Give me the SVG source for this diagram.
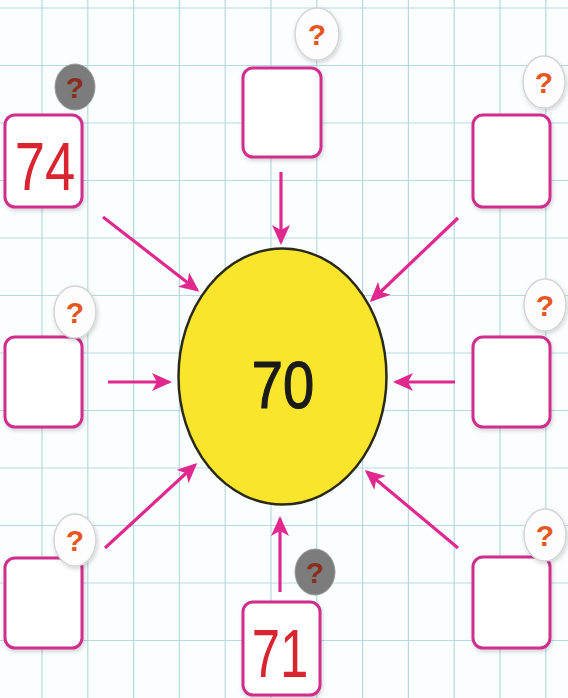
<svg xmlns="http://www.w3.org/2000/svg" width="568" height="698" viewBox="0 0 568 698">
<style>
.grid line{stroke:#b9d9e0;stroke-width:1.2}
.box{fill:#fff;stroke:#cf2f8c;stroke-width:3}
.badge{fill:#fdfdfd;stroke:#d4d4d4;stroke-width:1.5}
.gbadge{fill:#7c7c7c;stroke:#9a9a9a;stroke-width:1}
.q{font-family:"Liberation Sans",Arial,sans-serif;font-weight:bold;font-size:30px;fill:#e8561f;text-anchor:middle}
.gq{fill:#8a2d1c}
.num{font-family:"Liberation Sans",Arial,sans-serif;font-size:68px;fill:#d8252f;text-anchor:middle}
.conn line{stroke:#e0288f;stroke-width:3.2;marker-end:url(#ah)}
</style>
<defs>
<marker id="ah" viewBox="0 0 20 18" refX="17" refY="9" markerWidth="20" markerHeight="18" markerUnits="userSpaceOnUse" orient="auto">
<path d="M0,0 L20,9 L0,18 L5,9 z" fill="#e0288f"/>
</marker>
<filter id="sh" x="-20%" y="-20%" width="140%" height="140%">
<feDropShadow dx="1" dy="2" stdDeviation="2" flood-color="#000" flood-opacity="0.18"/>
</filter>
</defs>
<rect width="568" height="698" fill="#fbfefe"/>
<g class="grid">
<line x1="42" y1="0" x2="42" y2="698"/>
<line x1="87.8" y1="0" x2="87.8" y2="698"/>
<line x1="133.6" y1="0" x2="133.6" y2="698"/>
<line x1="179.4" y1="0" x2="179.4" y2="698"/>
<line x1="225.2" y1="0" x2="225.2" y2="698"/>
<line x1="271" y1="0" x2="271" y2="698"/>
<line x1="316.8" y1="0" x2="316.8" y2="698"/>
<line x1="362.6" y1="0" x2="362.6" y2="698"/>
<line x1="408.4" y1="0" x2="408.4" y2="698"/>
<line x1="454.2" y1="0" x2="454.2" y2="698"/>
<line x1="500" y1="0" x2="500" y2="698"/>
<line x1="545.8" y1="0" x2="545.8" y2="698"/>
<line x1="0" y1="8" x2="568" y2="8"/>
<line x1="0" y1="65.5" x2="568" y2="65.5"/>
<line x1="0" y1="123" x2="568" y2="123"/>
<line x1="0" y1="180.5" x2="568" y2="180.5"/>
<line x1="0" y1="238" x2="568" y2="238"/>
<line x1="0" y1="295.5" x2="568" y2="295.5"/>
<line x1="0" y1="353" x2="568" y2="353"/>
<line x1="0" y1="410.5" x2="568" y2="410.5"/>
<line x1="0" y1="468" x2="568" y2="468"/>
<line x1="0" y1="525.5" x2="568" y2="525.5"/>
<line x1="0" y1="583" x2="568" y2="583"/>
<line x1="0" y1="640.5" x2="568" y2="640.5"/>
</g>
<g id="connectors" class="conn">
<line x1="281" y1="172" x2="281" y2="242"/>
<line x1="103" y1="217" x2="197" y2="290"/>
<line x1="458" y1="218" x2="372" y2="300"/>
<line x1="108" y1="382" x2="169" y2="382"/>
<line x1="455" y1="382" x2="396" y2="382"/>
<line x1="105" y1="548" x2="195" y2="465"/>
<line x1="458" y1="548" x2="367" y2="472"/>
<line x1="280" y1="592" x2="280" y2="519"/>
</g>
<g id="center">
<ellipse cx="282.5" cy="376.5" rx="104" ry="128" fill="#f8e52c" stroke="#2a2a1a" stroke-width="2.5"/>
<text x="0" y="0" transform="translate(283,408) scale(0.85,1)" font-family="'Liberation Sans',Arial,sans-serif" font-size="66" fill="#1a1a1a" stroke="#1a1a1a" stroke-width="1.2" text-anchor="middle">70</text>
</g>
<g id="box-top-left">
<rect class="box" x="5" y="115" width="77" height="92" rx="10" filter="url(#sh)"/>
<text class="num" transform="translate(45,190) scale(0.8,1)">74</text>
<ellipse class="gbadge" cx="75" cy="87" rx="20" ry="23"/>
<text class="q gq" x="75" y="98">?</text>
</g>
<g id="box-top">
<rect class="box" x="243" y="68" width="78" height="89" rx="10" filter="url(#sh)"/>
<ellipse class="badge" cx="317" cy="34" rx="22" ry="26" filter="url(#sh)"/>
<text class="q" x="317" y="45">?</text>
</g>
<g id="box-top-right">
<rect class="box" x="473" y="115" width="77" height="92" rx="10" filter="url(#sh)"/>
<ellipse class="badge" cx="544" cy="82" rx="21" ry="26" filter="url(#sh)"/>
<text class="q" x="544" y="93">?</text>
</g>
<g id="box-mid-left">
<rect class="box" x="5" y="337" width="77" height="90" rx="10" filter="url(#sh)"/>
<ellipse class="badge" cx="75" cy="312" rx="21" ry="26" filter="url(#sh)"/>
<text class="q" x="75" y="323">?</text>
</g>
<g id="box-mid-right">
<rect class="box" x="473" y="337" width="77" height="90" rx="10" filter="url(#sh)"/>
<ellipse class="badge" cx="545" cy="305" rx="21" ry="26" filter="url(#sh)"/>
<text class="q" x="545" y="316">?</text>
</g>
<g id="box-bottom-left">
<rect class="box" x="5" y="558" width="77" height="90" rx="10" filter="url(#sh)"/>
<ellipse class="badge" cx="75" cy="540" rx="21" ry="26" filter="url(#sh)"/>
<text class="q" x="75" y="551">?</text>
</g>
<g id="box-bottom-right">
<rect class="box" x="473" y="557" width="77" height="91" rx="10" filter="url(#sh)"/>
<ellipse class="badge" cx="545" cy="535" rx="21" ry="26" filter="url(#sh)"/>
<text class="q" x="545" y="546">?</text>
</g>
<g id="box-bottom">
<rect class="box" x="243" y="602" width="77" height="93" rx="10" filter="url(#sh)"/>
<text class="num" transform="translate(280,677) scale(0.75,1)">71</text>
<ellipse class="gbadge" cx="315" cy="572" rx="20" ry="23"/>
<text class="q gq" x="315" y="583">?</text>
</g>
</svg>
